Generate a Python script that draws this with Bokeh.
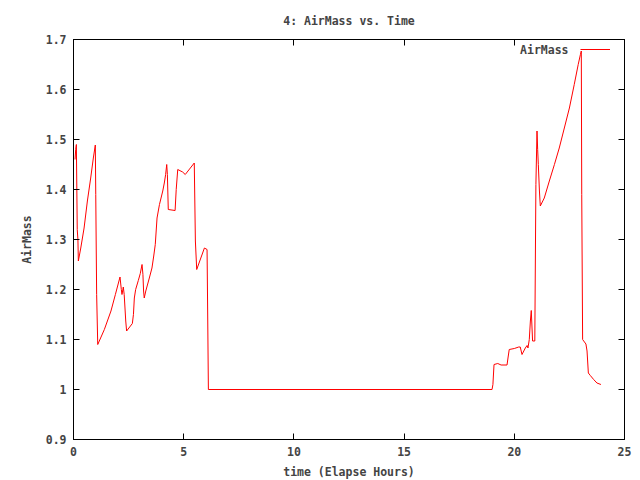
from bokeh.plotting import figure
from bokeh.models import (Range1d, FixedTicker, CustomJSTickFormatter, LinearAxis,
                          Legend, LegendItem, Label)
from bokeh.embed import file_html
from bokeh.resources import INLINE

# ---- data ----
time_h = [0.07, 0.10, 0.13, 0.17, 0.20, 0.22, 0.33, 0.48, 0.63, 0.78, 0.90, 0.99,
          1.01, 1.05, 1.10, 1.40, 1.70, 1.90, 2.11, 2.17, 2.20, 2.26, 2.30, 2.37,
          2.41, 2.67, 2.72, 2.76, 2.82, 2.94, 3.03, 3.11, 3.15, 3.18, 3.21, 3.28,
          3.44, 3.56, 3.64, 3.71, 3.79, 3.90, 4.05, 4.12, 4.18, 4.23, 4.26, 4.30,
          4.61, 4.66, 4.73, 4.95, 5.07, 5.48, 5.53, 5.59, 5.94, 6.06, 6.09, 6.12,
          18.99, 19.03, 19.08, 19.25, 19.40, 19.67, 19.72, 19.77, 20.00, 20.20,
          20.27, 20.35, 20.50, 20.58, 20.62, 20.68, 20.73, 20.77, 20.83, 20.93,
          20.98, 21.03, 21.06, 21.09, 21.14, 21.18, 21.36, 21.59, 21.82, 22.04,
          22.27, 22.50, 22.72, 22.90, 23.00, 23.04, 23.06, 23.10, 23.25, 23.30,
          23.36, 23.45, 23.60, 23.75, 23.93]
airmass = [1.46, 1.48, 1.49, 1.32, 1.30, 1.257, 1.283, 1.323, 1.377, 1.423, 1.463, 1.489,
           1.39, 1.19, 1.09, 1.12, 1.157, 1.19, 1.225, 1.20, 1.19, 1.205, 1.19, 1.137,
           1.117, 1.132, 1.15, 1.183, 1.20, 1.218, 1.232, 1.25, 1.23, 1.197, 1.183, 1.197,
           1.223, 1.243, 1.267, 1.29, 1.343, 1.37, 1.397, 1.413, 1.43, 1.45, 1.43, 1.36,
           1.358, 1.40, 1.44, 1.435, 1.43, 1.453, 1.297, 1.24, 1.283, 1.28, 1.143, 1.0,
           1.0, 1.01, 1.05, 1.052, 1.049, 1.049, 1.065, 1.08, 1.082, 1.085,
           1.085, 1.07, 1.083, 1.088, 1.083, 1.10, 1.137, 1.158, 1.097, 1.097,
           1.41, 1.517, 1.48, 1.45, 1.397, 1.367, 1.383, 1.417, 1.45, 1.483,
           1.523, 1.563, 1.61, 1.65, 1.67, 1.677, 1.39, 1.10, 1.091, 1.077,
           1.033, 1.028, 1.02, 1.013, 1.01]
x_ticks = [0, 5, 10, 15, 20, 25]
y_ticks = [0.9, 1.0, 1.1, 1.2, 1.3, 1.4, 1.5, 1.6, 1.7]
title_text = "4: AirMass vs. Time"
x_label = "time (Elapse Hours)"
y_label = "AirMass"
series_name = "AirMass"

FONT = "DejaVu Sans Mono"
FS = "11.5px"

p = figure(frame_width=551, frame_height=400, output_backend="svg", toolbar_location=None,
           x_range=Range1d(0, 25), y_range=Range1d(0.9, 1.7),
           min_border_left=73, min_border_right=16, min_border_top=38, min_border_bottom=42,
           x_axis_label=x_label, y_axis_label=y_label)
p.background_fill_color = "white"
p.border_fill_color = "white"
p.outline_line_color = "black"
p.outline_line_width = 1
p.xgrid.visible = False
p.ygrid.visible = False

p.title.text = title_text
p.title.align = "center"
p.title.text_font = FONT
p.title.text_font_size = FS
p.title.text_font_style = "bold"
p.title.offset = 0
p.title.standoff = 23

fmt = CustomJSTickFormatter(code="return Number(tick.toFixed(1)).toString();")

for ax, ticks in ((p.xaxis[0], x_ticks), (p.yaxis[0], y_ticks)):
    ax.ticker = FixedTicker(ticks=ticks)
    ax.formatter = fmt
    ax.major_tick_in = 6
    ax.major_tick_out = 0
    ax.minor_tick_line_color = None
    ax.axis_line_color = "black"
    ax.major_label_text_font = FONT
    ax.major_label_text_font_size = FS
    ax.major_label_text_font_style = "bold"
    ax.axis_label_text_font = FONT
    ax.axis_label_text_font_size = FS
    ax.axis_label_text_font_style = "bold"
p.yaxis[0].major_label_standoff = 7
p.yaxis[0].axis_label_standoff = 9
p.xaxis[0].major_label_standoff = 7
p.xaxis[0].axis_label_standoff = 6

# mirrored ticks on right and top (no labels)
blank = CustomJSTickFormatter(code="return '';")
for side, ticks in (("right", y_ticks), ("above", x_ticks)):
    ax = LinearAxis(ticker=FixedTicker(ticks=ticks), formatter=blank,
                    major_tick_in=6, major_tick_out=0,
                    minor_tick_line_color=None, major_label_text_font_size="1px",
                    major_label_standoff=0, axis_line_color="black")
    p.add_layout(ax, side)

r = p.line(time_h, airmass, line_color="red", line_width=1)

legend = Legend(items=[LegendItem(label=" ", renderers=[r])], location="top_right",
                glyph_width=30, glyph_height=20, padding=0, margin=0, spacing=0,
                label_standoff=0, label_width=14, label_height=20,
                label_text_font_size="4px",
                border_line_alpha=0, background_fill_alpha=0)
p.add_layout(legend)

p.add_layout(Label(x=495, y=390, x_units="screen", y_units="screen", text=series_name,
                   text_align="right", text_baseline="middle", text_font=FONT,
                   text_font_size=FS, text_font_style="bold"))

open("out.html", "w").write(file_html(p, INLINE))
